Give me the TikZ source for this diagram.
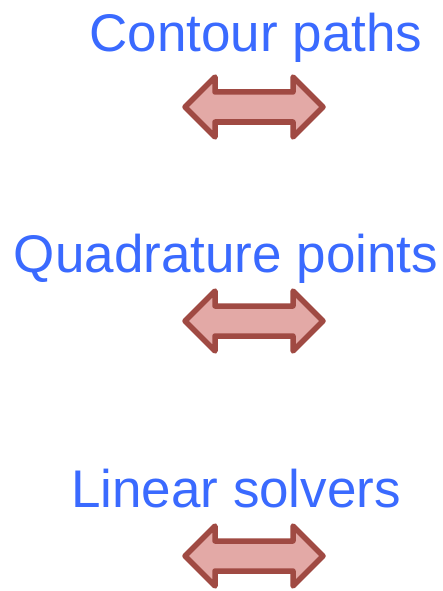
\documentclass[tikz,border=0pt]{standalone}
\usepackage{fontspec}
\setmainfont{Liberation Sans}
\definecolor{txtblue}{RGB}{58,106,255}
\definecolor{arrfill}{RGB}{227,169,166}
\definecolor{arrline}{RGB}{160,74,67}
\tikzset{
  label text/.style={text=txtblue, inner sep=0pt, anchor=base, font=\fontsize{53}{60}\selectfont},
  dblarrow/.pic={
    \draw[fill=arrfill, draw=arrline, line width=5.5pt, line join=round]
      (-69,0) -- (-39,-30) -- (-39,-15) -- (39,-15) -- (39,-30) -- (69,0)
      -- (39,30) -- (39,15) -- (-39,15) -- (-39,30) -- cycle;
  }
}
\begin{document}
\begin{tikzpicture}[x=1pt,y=-1pt]
\useasboundingbox[fill=white] (0,0) rectangle (443,591);
\node[label text] (contour) at (256,52) {Contour paths};
\pic at (254,107) {dblarrow};
\node[label text] (quad) at (226,272) {Quadrature points};
\pic at (254,321) {dblarrow};
\node[label text] (linear) at (236,507) {Linear solvers};
\pic at (254,556) {dblarrow};
\end{tikzpicture}
\end{document}
